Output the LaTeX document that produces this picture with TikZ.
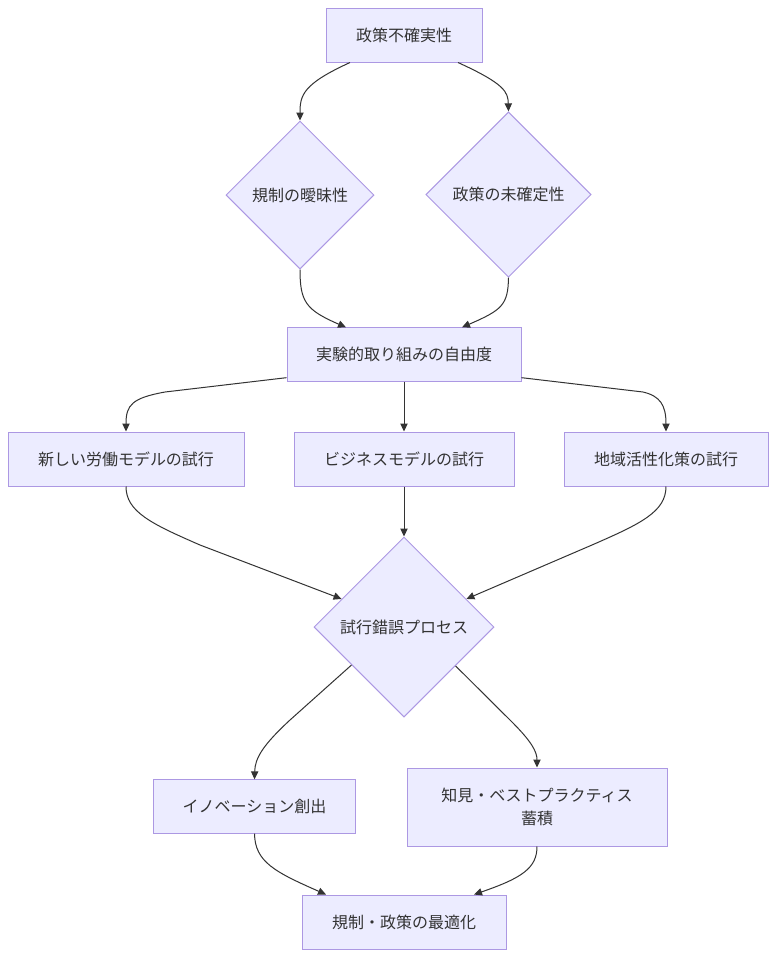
\documentclass[tikz,border=0pt]{standalone}
\usepackage{fontspec}
\setmainfont{Noto Sans CJK JP}
\usetikzlibrary{shapes.geometric,arrows.meta,calc}
\definecolor{nodefill}{HTML}{ECECFF}
\definecolor{nodeborder}{HTML}{AC98E3}
\definecolor{edgecol}{HTML}{333333}
\begin{document}
\begin{tikzpicture}[x=0.75pt,y=-0.75pt,
  box/.style={draw=nodeborder, fill=nodefill, line width=0.75pt, text=edgecol,
    font=\fontsize{12}{17}\selectfont, inner sep=0pt, align=center},
  dia/.style={box, diamond, aspect=1},
  link/.style={draw=edgecol, line width=0.75pt, -{Triangle[length=6pt,width=5.5pt]}}]
\useasboundingbox[fill=white] (0,0) rectangle (776,958);

\node[box, minimum width=117pt, minimum height=40.5pt] (A) at (404,35) {政策不確実性};
\node[dia, minimum width=111pt, minimum height=111pt] (B) at (300,195) {規制の曖昧性};
\node[dia, minimum width=124pt, minimum height=124pt] (C) at (508.5,194.5) {政策の未確定性};
\node[box, minimum width=175.5pt, minimum height=40pt] (D) at (404,354.5) {実験的取り組みの自由度};
\node[box, minimum width=177pt, minimum height=40.5pt] (E) at (126,459) {新しい労働モデルの試行};
\node[box, minimum width=165pt, minimum height=40.5pt] (F) at (404,459) {ビジネスモデルの試行};
\node[box, minimum width=153pt, minimum height=40.5pt] (G) at (666,459) {地域活性化策の試行};
\node[dia, minimum width=135pt, minimum height=135pt] (H) at (404,627) {試行錯誤プロセス};
\node[box, minimum width=152pt, minimum height=40pt] (I) at (254.5,806.5) {イノベーション創出};
\node[box, minimum width=195pt, minimum height=58.5pt] (J) at (537,807) {知見・ベストプラクティス\\蓄積};
\node[box, minimum width=153pt, minimum height=40.5pt] (K) at (404,922) {規制・政策の最適化};

\draw[link] ($(A.south)+(-54,0)$) .. controls (303,84) and (300,95) .. (B.north);
\draw[link] ($(A.south)+(54,0)$) .. controls (505,84) and (508,92) .. (C.north);
\draw[link] (B.south) .. controls (300,302) and (306,310) .. ($(D.north)+(-58,0)$);
\draw[link] (C.south) .. controls (508,305) and (502,310) .. ($(D.north)+(58,0)$);
\draw[link] ($(D.south west)+(0,-4)$) -- (165,392) .. controls (132,398) and (126,405) .. (E.north);
\draw[link] (D.south) -- (F.north);
\draw[link] ($(D.south east)+(0,-4)$) -- (643,392) .. controls (660,396) and (666,405) .. (G.north);
\draw[link] (E.south) .. controls (126,512) and (152,524) .. (200,545) -- ($(H.west)!0.31!(H.north)$);
\draw[link] (F.south) -- (H.north);
\draw[link] (G.south) .. controls (666,512) and (640,524) .. (592,545) -- ($(H.east)!0.31!(H.north)$);
\draw[link] ($(H.west)!0.42!(H.south)$) -- (290,720) .. controls (263,745) and (255,758) .. (I.north);
\draw[link] ($(H.east)!0.43!(H.south)$) -- (512,722) .. controls (532,742) and (537,752) .. (J.north);
\draw[link] (I.south) .. controls (255,862) and (275,872) .. ($(K.north)+(-78,0)$);
\draw[link] (J.south) .. controls (537,868) and (522,878) .. ($(K.north)+(70,0)$);
\end{tikzpicture}
\end{document}
